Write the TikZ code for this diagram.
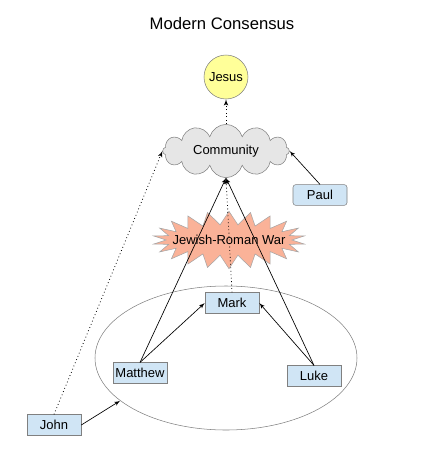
\documentclass[tikz,border=0pt]{standalone}
\usepackage{fontspec}
\setmainfont{Liberation Sans}
\usetikzlibrary{arrows,shapes,calc}
\definecolor{boxblue}{RGB}{208,229,245}
\definecolor{sunyellow}{RGB}{255,255,153}
\definecolor{warsalmon}{RGB}{250,178,152}
\definecolor{cloudgray}{RGB}{230,230,230}
\tikzset{
  gospel/.style={draw=gray, fill=boxblue, minimum width=40.5pt, minimum height=15.5pt, inner sep=1pt, font=\fontsize{9.75}{11}\selectfont},
  link/.style={-latex', black, line width=0.5pt},
  hint/.style={-latex', black, line width=0.6pt, dotted}
}
\begin{document}
\begin{tikzpicture}[x=0.75pt,y=-0.75pt,font=\fontsize{9.75}{11}\selectfont]
    \useasboundingbox (0,0) rectangle (445,457);
    \node (title) at (222,24) {\fontsize{12.5}{14}\selectfont Modern Consensus};
    \node [ellipse,draw=gray,minimum width=196.5pt,minimum height=108pt] (synoptics) at (226,358) {};
    \node [circle,draw=gray,fill=sunyellow,minimum size=33pt,inner sep=0pt] (jesus) at (226,77) {Jesus};
    \node [cloud,cloud puffs=12,cloud ignores aspect,draw=gray,fill=cloudgray,minimum width=95pt,minimum height=40pt] (community) at (226,151) {Community};
    \node [starburst,starburst points=22,starburst point height=10pt,random starburst=0,draw=gray!70,fill=warsalmon,inner xsep=-9pt,inner ysep=2pt,minimum height=43pt] (war) at (229,240) {Jewish-Roman War};
    \node [gospel,rounded corners=2pt] (paul) at (320,195) {Paul};
    \node [gospel] (mark) at (232,303) {Mark};
    \node [gospel] (matthew) at (140,373) {Matthew};
    \node [gospel] (luke) at (314,376) {Luke};
    \node [gospel] (john) at (54,425) {John};
    \draw [hint] (community.north) -- (jesus.south);
    \draw [link] (paul.north) -- (community.east);
    \draw [hint] (john.north) -- (community.west);
    \draw [link] (john.east) -- (synoptics.202);
    \draw [link] (matthew.north) -- (mark.west);
    \draw [link] (luke.north) -- (mark.east);
    \draw [link] (matthew.north) -- (community.south);
    \draw [link] (luke.north) -- (community.south);
    \draw [hint] (mark.north) -- (community.south);
\end{tikzpicture}
\end{document}
